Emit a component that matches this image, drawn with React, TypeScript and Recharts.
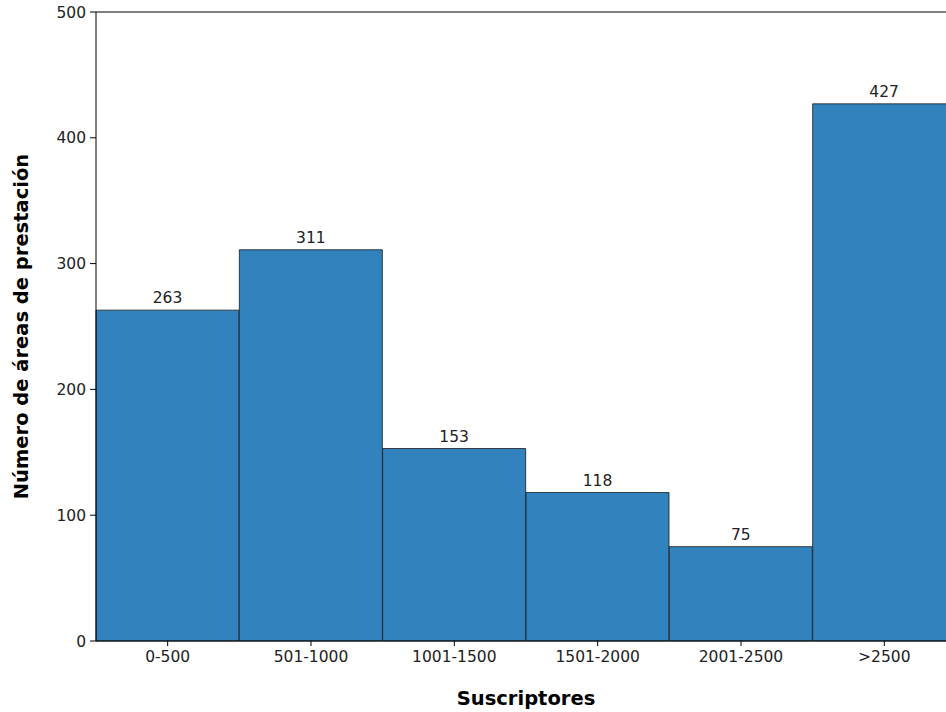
import { BarChart, Bar, XAxis, YAxis, LabelList, ReferenceLine, Label } from "recharts";

const categories = ["0-500", "501-1000", "1001-1500", "1501-2000", "2001-2500", ">2500"];
const areas = [263, 311, 153, 118, 75, 427];
const yTicks = [0, 100, 200, 300, 400, 500];

const data = categories.map((name, i) => ({ name, areas: areas[i] }));

const font = "'DejaVu Sans', sans-serif";

const YTitle = (props: any) => {
  const { viewBox } = props;
  const cx = 21;
  const cy = viewBox.y + viewBox.height / 2;
  return (
    <text
      x={cx}
      y={cy}
      transform={`rotate(-90, ${cx}, ${cy})`}
      textAnchor="middle"
      dominantBaseline="central"
      fontFamily={font}
      fontSize={19.5}
      fontWeight="bold"
      fill="#000"
    >
      Número de áreas de prestación
    </text>
  );
};

export default function App() {
  return (
    <div style={{ position: "fixed", left: 0, top: 0, width: 946, height: 712, overflow: "hidden", background: "#fff" }}>
      <BarChart
        width={960}
        height={712}
        data={data}
        margin={{ top: 12, right: 4, left: 0, bottom: 0 }}
        barCategoryGap={0}
      >
        <XAxis
          dataKey="name"
          height={71}
          axisLine={{ stroke: "#000", strokeWidth: 1 }}
          tickLine={{ stroke: "#000" }}
          tickSize={5}
          tick={{ fontFamily: font, fontSize: 15.5, fill: "#222" }}
          tickMargin={5}
        >
          <Label
            value="Suscriptores"
            position="insideBottom"
            offset={7}
            style={{ fontFamily: font, fontSize: 19.5, fontWeight: "bold", fill: "#000" }}
          />
        </XAxis>
        <YAxis
          width={96}
          domain={[0, 500]}
          ticks={yTicks}
          axisLine={{ stroke: "#000", strokeWidth: 1 }}
          tickLine={{ stroke: "#000" }}
          tickSize={6}
          tick={{ fontFamily: font, fontSize: 15.5, fill: "#222" }}
          tickMargin={4}
        >
          <Label content={<YTitle />} />
        </YAxis>
        <ReferenceLine y={500} stroke="#000" strokeWidth={1} />
        <Bar dataKey="areas" fill="#3182bd" stroke="#1a1a1a" strokeWidth={0.8} isAnimationActive={false}>
          <LabelList
            dataKey="areas"
            position="top"
            offset={7}
            style={{ fontFamily: font, fontSize: 15.5, fill: "#222" }}
          />
        </Bar>
      </BarChart>
    </div>
  );
}
